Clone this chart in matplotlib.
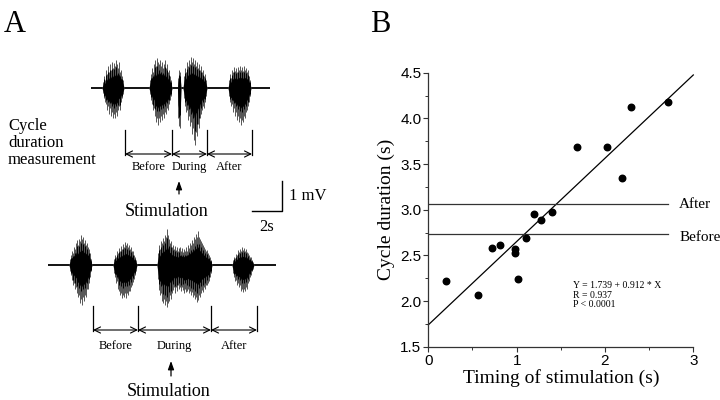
import matplotlib
matplotlib.use("Agg")
import matplotlib.pyplot as plt
import numpy as np

SERIF = ["Liberation Serif", "DejaVu Serif"]
SANS = ["Liberation Sans", "DejaVu Sans"]

# ---------------- Panel B data ----------------
timing = [0.20, 0.56, 0.72, 0.81, 0.98, 0.98, 1.02, 1.11, 1.20, 1.28, 1.40,
          1.68, 2.02, 2.19, 2.30, 2.71]
cycle = [2.22, 2.07, 2.58, 2.61, 2.57, 2.53, 2.24, 2.69, 2.95, 2.89, 2.98,
         3.69, 3.69, 3.35, 4.12, 4.18]
intercept, slope = 1.739, 0.912
before_level = 2.73
after_level = 3.06
ref_end = 2.71
x_ticks = [0, 1, 2, 3]
y_ticks = [1.5, 2.0, 2.5, 3.0, 3.5, 4.0, 4.5]

# ---------------- Panel A data (trace envelopes) ----------------
# each burst: list of (time, upper excursion, lower excursion)
top_base_y = 88
top_span = (91, 270)
top_bursts = [
    [(102, 0, 0), (103, 6, 5), (104, 12, 10), (105, 8, 14), (106, 18, 16), (107, 14, 22),
     (108, 22, 18), (109, 16, 26), (110, 24, 20), (111, 18, 28), (112, 26, 24),
     (113, 20, 30), (114, 25, 26), (115, 22, 30), (116, 28, 24), (117, 24, 28),
     (118, 20, 22), (119, 26, 18), (120, 16, 22), (121, 18, 14), (122, 12, 10),
     (123, 8, 6), (124, 0, 0)],
    [(149, 0, 0), (150, 8, 6), (151, 14, 12), (152, 20, 16), (153, 16, 22), (154, 24, 20),
     (155, 28, 28), (156, 22, 34), (157, 30, 30), (158, 26, 37), (159, 24, 30),
     (160, 28, 34), (161, 22, 28), (162, 26, 32), (163, 20, 26), (164, 24, 30),
     (165, 28, 24), (166, 20, 26), (167, 24, 20), (168, 16, 22), (169, 18, 16),
     (170, 12, 12), (171, 8, 8), (172, 0, 0)],
    [(177.5, 0, 0), (178, 10, 30), (178.7, 18, 38), (179.5, 12, 40), (180.3, 16, 36),
     (181, 0, 0)],
    [(183, 0, 0), (184, 12, 10), (185, 20, 18), (186, 16, 24), (187, 26, 22), (188, 22, 32),
     (189, 28, 28), (190, 24, 38), (191, 31, 34), (192, 26, 46), (193, 30, 40),
     (194, 24, 52), (195, 28, 57), (196, 22, 44), (197, 26, 48), (198, 20, 36),
     (199, 24, 40), (200, 18, 30), (201, 22, 26), (202, 16, 22), (203, 18, 18),
     (204, 12, 20), (205, 14, 14), (206, 8, 8), (207, 0, 0)],
    [(228, 0, 0), (229, 8, 8), (230, 14, 14), (231, 10, 18), (232, 18, 16), (233, 16, 24),
     (234, 21, 20), (235, 17, 28), (236, 20, 24), (237, 16, 32), (238, 21, 28),
     (239, 18, 34), (240, 22, 30), (241, 18, 37), (242, 21, 32), (243, 17, 34),
     (244, 22, 28), (245, 18, 30), (246, 20, 24), (247, 16, 22), (248, 18, 18),
     (249, 12, 14), (250, 8, 8), (251, 0, 0)],
]
bot_base_y = 265
bot_span = (48, 276)
bot_bursts = [
    [(69, 0, 0), (70, 6, 6), (71, 10, 10), (72, 14, 15), (73, 12, 20), (74, 18, 18),
     (75, 16, 24), (76, 22, 22), (77, 25, 28), (78, 20, 32), (79, 26, 30), (80, 24, 38),
     (81, 30, 34), (82, 26, 40), (83, 28, 32), (84, 22, 36), (85, 25, 30), (86, 20, 32),
     (87, 22, 24), (88, 18, 24), (89, 16, 18), (90, 12, 12), (91, 6, 6), (92, 0, 0)],
    [(113, 0, 0), (114, 6, 8), (115, 10, 12), (116, 8, 18), (117, 14, 16), (118, 12, 24),
     (119, 17, 26), (120, 14, 30), (121, 19, 28), (122, 16, 33), (123, 21, 30),
     (124, 18, 32), (125, 23, 28), (126, 20, 33), (127, 22, 28), (128, 18, 30),
     (129, 20, 26), (130, 16, 26), (131, 18, 22), (132, 14, 20), (133, 14, 17),
     (134, 10, 14), (135, 8, 10), (136, 5, 6), (137, 0, 0)],
    [(157, 0, 0), (158, 12, 14), (159, 20, 25), (160, 16, 30), (161, 24, 28), (162, 22, 36),
     (163, 27, 38), (164, 24, 34), (165, 30, 40), (166, 28, 36), (167, 36, 42),
     (168, 30, 38), (169, 26, 36), (170, 22, 30), (171, 24, 34), (172, 18, 28),
     (173, 20, 25), (174, 16, 22), (175, 19, 28), (176, 15, 22), (177, 18, 26),
     (178, 14, 20), (179, 17, 24), (180, 18, 22), (181, 14, 26), (182, 17, 22),
     (183, 13, 25), (184, 16, 28), (185, 14, 24), (186, 18, 27), (187, 14, 26),
     (188, 20, 24), (189, 17, 28), (190, 22, 26), (191, 20, 30), (192, 25, 27),
     (193, 22, 32), (194, 28, 30), (195, 26, 34), (196, 31, 32), (197, 28, 37),
     (198, 34, 35), (199, 28, 30), (200, 26, 32), (201, 24, 28), (202, 22, 25),
     (203, 20, 27), (204, 18, 22), (205, 16, 24), (206, 14, 20), (207, 15, 20),
     (208, 12, 18), (209, 10, 16), (210, 8, 12), (211, 5, 8), (212, 0, 0)],
    [(232, 0, 0), (233, 5, 8), (234, 8, 12), (235, 7, 16), (236, 11, 15), (237, 10, 20),
     (238, 15, 18), (239, 13, 22), (240, 16, 20), (241, 14, 26), (242, 18, 24),
     (243, 15, 27), (244, 17, 24), (245, 14, 26), (246, 16, 22), (247, 13, 24),
     (248, 12, 18), (249, 10, 16), (250, 8, 12), (251, 8, 10), (252, 5, 6),
     (253, 3, 4), (254, 0, 0)],
]
top_marks = [125, 172, 207, 252]
bot_marks = [93, 138, 211, 257]
segment_labels = ["Before", "During", "After"]

fig = plt.figure(figsize=(7.2, 4.0), dpi=100)

# ---------------- Panel A ----------------
axA = fig.add_axes([0, 0, 0.5, 1])
axA.set_xlim(0, 360)
axA.set_ylim(400, 0)
axA.axis("off")


def draw_trace(base, span, bursts):
    axA.plot(list(span), [base, base], color="black", lw=1.3,
             solid_capstyle="butt", zorder=2)
    for b in bursts:
        t = np.array([p[0] for p in b], float)
        up = np.array([p[1] for p in b], float)
        lo = np.array([p[2] for p in b], float)
        axA.fill_between(t, base - 0.8 * up, base + 0.8 * lo, color="#8c8c8c",
                         lw=0, zorder=2)
        axA.vlines(t, base - up, base + lo, color="#555555", lw=0.7, zorder=3)
        axA.fill_between(t, base - 0.55 * up, base + 0.55 * lo, color="black",
                         lw=0, zorder=4)
        axA.vlines(t[::2], base - 0.75 * up[::2], base + 0.75 * lo[::2],
                   color="black", lw=0.7, zorder=4)


def draw_marks(marks, y0, y1, ylab):
    for m in marks:
        axA.plot([m, m], [y0, y1], color="black", lw=0.9)
    for i in range(len(marks) - 1):
        axA.annotate("", xy=(marks[i + 1], y1 - 1), xytext=(marks[i], y1 - 1),
                     arrowprops=dict(arrowstyle="<->,head_length=0.45,head_width=0.22",
                                     color="black", lw=0.8, shrinkA=0, shrinkB=0))
        axA.text((marks[i] + marks[i + 1]) / 2, ylab, segment_labels[i],
                 family=SERIF, fontsize=9, ha="center", va="center")


draw_trace(top_base_y, top_span, top_bursts)
draw_trace(bot_base_y, bot_span, bot_bursts)
draw_marks(top_marks, 130, 155, 167)
draw_marks(bot_marks, 306, 331, 346)

axA.text(4, 10, "A", family=SERIF, fontsize=22, ha="left", va="top")
axA.text(8, 143, "Cycle\nduration\nmeasurement", family=SERIF, fontsize=12,
         ha="left", va="center", linespacing=1.1)

# stimulation arrows
axA.annotate("", xy=(179, 181), xytext=(179, 194),
             arrowprops=dict(arrowstyle="-|>,head_length=0.5,head_width=0.18",
                             color="black", lw=0.9, shrinkA=0, shrinkB=0))
axA.text(167, 212, "Stimulation", family=SERIF, fontsize=13, ha="center", va="center")
axA.annotate("", xy=(171, 361), xytext=(171, 376),
             arrowprops=dict(arrowstyle="-|>,head_length=0.5,head_width=0.18",
                             color="black", lw=0.9, shrinkA=0, shrinkB=0))
axA.text(169, 391, "Stimulation", family=SERIF, fontsize=13, ha="center", va="center")

# scale bar
axA.plot([252, 282, 282], [211, 211, 181], color="black", lw=1.0)
axA.text(289, 196, "1 mV", family=SERIF, fontsize=12, ha="left", va="center")
axA.text(267, 227, "2s", family=SERIF, fontsize=12, ha="center", va="center")

# ---------------- Panel B ----------------
axB = fig.add_axes([0.5949, 0.1333, 0.368, 0.685])
axB.set_xlim(0, 3)
axB.set_ylim(1.5, 4.5)
for s in ["top", "right"]:
    axB.spines[s].set_visible(False)
for s in ["left", "bottom"]:
    axB.spines[s].set_linewidth(0.9)
    axB.spines[s].set_color("#333333")

axB.scatter(timing, cycle, s=22, color="black", zorder=4, clip_on=False)
xl = np.array([0, 3])
axB.plot(xl, intercept + slope * xl, color="black", lw=0.9, clip_on=False)
axB.plot([0, ref_end], [after_level, after_level], color="#333333", lw=0.9)
axB.plot([0, ref_end], [before_level, before_level], color="#333333", lw=0.9)
axB.text(2.84, after_level, "After", family=SERIF, fontsize=11, ha="left", va="center")
axB.text(2.84, before_level - 0.04, "Before", family=SERIF, fontsize=11,
         ha="left", va="center")
axB.text(1.64, 2.22, "Y = 1.739 + 0.912 * X\nR = 0.937\nP < 0.0001",
         family=SERIF, fontsize=7, ha="left", va="top", linespacing=1.1)

axB.set_xticks(x_ticks)
axB.set_yticks(y_ticks)
axB.set_xticks([0.5, 1.5, 2.5], minor=True)
axB.set_yticks([1.75, 2.25, 2.75, 3.25, 3.75, 4.25], minor=True)
axB.set_xticklabels([str(v) for v in x_ticks], family=SANS, fontsize=11)
axB.set_yticklabels(["%.1f" % v for v in y_ticks], family=SANS, fontsize=11)
axB.tick_params(which="major", length=3.5, width=0.8, pad=1.5, color="#333333")
axB.tick_params(which="minor", length=2, width=0.7, color="#333333")
axB.set_xlabel("Timing of stimulation (s)", family=SERIF, fontsize=14, labelpad=1)
axB.set_ylabel("Cycle duration (s)", family=SERIF, fontsize=14, labelpad=4)

fig.text(370 / 720, 1 - 10 / 400, "B", family=SERIF, fontsize=22, ha="left", va="top")

fig.savefig("out.png", dpi=100)
